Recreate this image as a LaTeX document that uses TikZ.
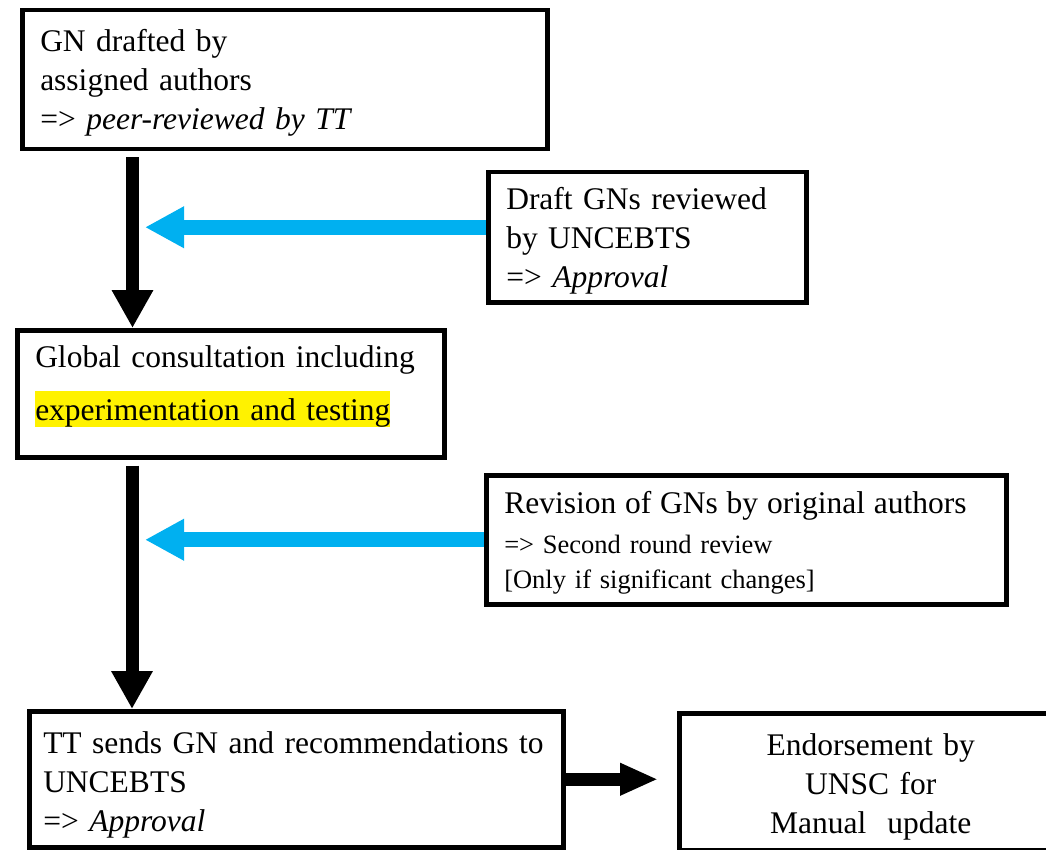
\documentclass[tikz,border=0pt]{standalone}
\usepackage{fontspec}
\setmainfont{Liberation Serif}
\usetikzlibrary{positioning, arrows.meta}

\definecolor{skyblue}{RGB}{0,176,240}
\newcommand{\hilite}[1]{{\setlength{\fboxsep}{0pt}\colorbox{yellow}{\rule[-7pt]{0pt}{36pt}#1}}}

\begin{document}
\begin{tikzpicture}[x=1pt, y=-1pt,
  stage/.style={draw, line width=4.5pt, inner xsep=18pt, inner ysep=0pt,
    align=left, anchor=north west, font=\fontsize{31.5}{39}\selectfont},
  flow/.style={line width=13pt, -{Triangle[length=38pt, width=39pt]}},
  feedback/.style={draw=skyblue, line width=15pt, -{Triangle[length=39pt, width=39pt]}}]
  \useasboundingbox (0,0) rectangle (1046,850);
  \clip (0,0) rectangle (1046,850);

  % boxes
  \node (drafted) [stage, text width=489pt, minimum height=139pt] at (20,8)
    {\rule{0pt}{29pt}GN drafted by\\ assigned authors\\ => \textit{peer-reviewed by TT}};
  \node (reviewed) [stage, text width=282pt, minimum height=130pt] at (486,170)
    {\rule{0pt}{29pt}Draft GNs reviewed\\ by UNCEBTS\\ => \textit{Approval}};
  \node (consult) [stage, text width=391pt, minimum height=127pt] at (15,328)
    {Global consultation including\\[14pt]
     \hilite{experimentation and testing}\rule[-22pt]{0pt}{0pt}};
  \node (revision) [stage, text width=484pt, minimum height=129pt,
    font=\fontsize{26.5}{35}\selectfont] at (484,473)
    {{\fontsize{31.5}{35}\selectfont\rule{0pt}{28pt}Revision of GNs by original authors}\\[5pt]
     => Second round review\\ {[}Only if significant changes{]}};
  \node (sends) [stage, inner xsep=14pt, text width=506pt, minimum height=136pt] at (27,709)
    {\rule{0pt}{33pt}TT sends GN and recommendations to\\ UNCEBTS\\ => \textit{Approval}};
  \node (endorse) [stage, align=center, text width=347pt, minimum height=137pt] at (677,711)
    {\rule{0pt}{32pt}Endorsement by\\ UNSC for\\ Manual\ \ update};

  % main flow
  \coordinate (s1) at ([xshift=112.5pt, yshift=-6pt]drafted.south west);
  \coordinate (s2) at ([xshift=117pt, yshift=-6pt]consult.south west);
  \draw [flow] (s1) -- (s1 |- consult.north);
  \draw [flow] (s2) -- (s2 |- sends.north);
  \draw [line width=13pt, -{Triangle[length=38pt, width=30pt]}]
    (sends.east) -- ([xshift=-19pt]endorse.west |- sends.east);

  % feedback
  \coordinate (b1) at ([yshift=10pt]reviewed.west);
  \coordinate (b2) at (revision.west);
  \draw [feedback] (b1) -- ([xshift=12.5pt]s1 |- b1);
  \draw [feedback] (b2) -- ([xshift=13pt]s2 |- b2);
\end{tikzpicture}
\end{document}
